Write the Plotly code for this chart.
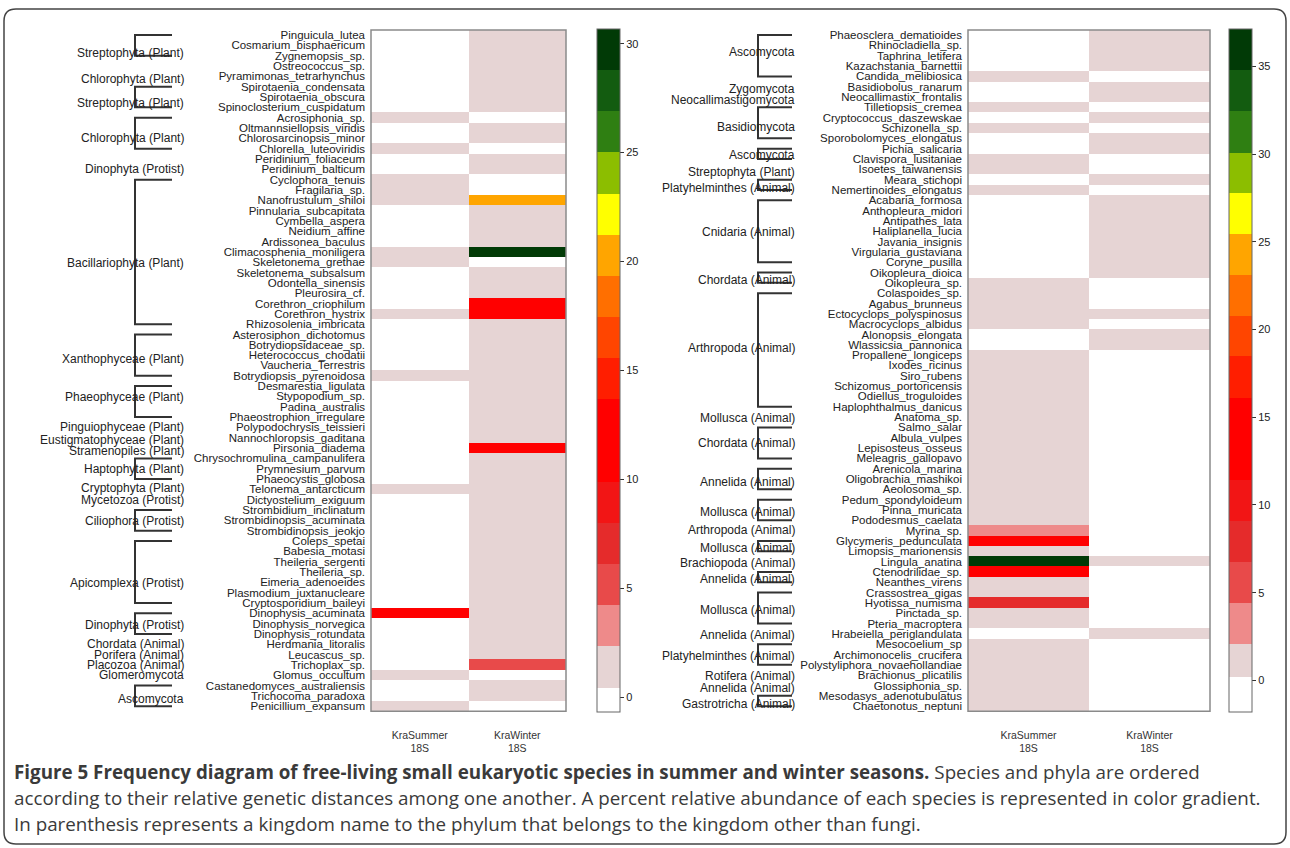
import plotly.graph_objects as go

W, H = 1290, 848

# ---------------- data: left panel ----------------
left_species = [
    "Pinguicula_lutea", "Cosmarium_bisphaericum", "Zygnemopsis_sp.", "Ostreococcus_sp.",
    "Pyramimonas_tetrarhynchus", "Spirotaenia_condensata", "Spirotaenia_obscura",
    "Spinoclosterium_cuspidatum", "Acrosiphonia_sp.", "Oltmannsiellopsis_viridis",
    "Chlorosarcinopsis_minor", "Chlorella_luteoviridis", "Peridinium_foliaceum",
    "Peridinium_balticum", "Cyclophora_tenuis", "Fragilaria_sp.", "Nanofrustulum_shiloi",
    "Pinnularia_subcapitata", "Cymbella_aspera", "Neidium_affine", "Ardissonea_baculus",
    "Climacosphenia_moniligera", "Skeletonema_grethae", "Skeletonema_subsalsum",
    "Odontella_sinensis", "Pleurosira_cf.", "Corethron_criophilum", "Corethron_hystrix",
    "Rhizosolenia_imbricata", "Asterosiphon_dichotomus", "Botrydiopsidaceae_sp.",
    "Heterococcus_chodatii", "Vaucheria_Terrestris", "Botrydiopsis_pyrenoidosa",
    "Desmarestia_ligulata", "Stypopodium_sp.", "Padina_australis", "Phaeostrophion_irregulare",
    "Polypodochrysis_teissieri", "Nannochloropsis_gaditana", "Pirsonia_diadema",
    "Chrysochromulina_campanulifera", "Prymnesium_parvum", "Phaeocystis_globosa",
    "Telonema_antarcticum", "Dictyostelium_exiguum", "Strombidium_inclinatum",
    "Strombidinopsis_acuminata", "Strombidinopsis_jeokjo", "Coleps_spetai", "Babesia_motasi",
    "Theileria_sergenti", "Theileria_sp.", "Eimeria_adenoeides", "Plasmodium_juxtanucleare",
    "Cryptosporidium_baileyi", "Dinophysis_acuminata", "Dinophysis_norvegica",
    "Dinophysis_rotundata", "Herdmania_litoralis", "Leucascus_sp.", "Trichoplax_sp.",
    "Glomus_occultum", "Castanedomyces_australiensis", "Trichocoma_paradoxa",
    "Penicillium_expansum",
]
left_summer = [0, 0, 0, 0, 0, 0, 0, 0, 1, 0, 0, 1, 0, 0, 1, 1, 1, 0, 0, 0, 0, 1, 1, 0, 0, 0,
               0, 1, 0, 0, 0, 0, 0, 1, 0, 0, 0, 0, 0, 0, 0, 0, 0, 0, 1, 0, 0, 0, 0, 0, 0, 0,
               0, 0, 0, 0, 12.5, 0, 0, 0, 0, 0, 1, 0, 0, 1]
left_winter = [1, 1, 1, 1, 1, 1, 1, 1, 0, 1, 1, 0, 1, 1, 0, 0, 20.3, 1, 1, 1, 1, 30, 0, 1, 1, 1,
               13, 13, 1, 1, 1, 1, 1, 1, 1, 1, 1, 1, 1, 1, 12.5, 1, 1, 1, 1, 1, 1, 1, 1, 1, 1, 1,
               1, 1, 1, 1, 1, 1, 1, 1, 1, 5, 0, 1, 1, 0]

left_phyla = ["Streptophyta (Plant)", "Chlorophyta (Plant)", "Streptophyta (Plant)",
              "Chlorophyta (Plant)", "Dinophyta (Protist)", "Bacillariophyta (Plant)",
              "Xanthophyceae (Plant)", "Phaeophyceae (Plant)", "Pinguiophyceae (Plant)",
              "Eustigmatophyceae (Plant)", "Stramenopiles (Plant)", "Haptophyta (Plant)",
              "Cryptophyta (Plant)", "Mycetozoa (Protist)", "Ciliophora (Protist)",
              "Apicomplexa (Protist)", "Dinophyta (Protist)", "Chordata (Animal)",
              "Porifera (Animal)", "Placozoa (Animal)", "Glomeromycota", "Ascomycota"]
left_phyla_first = [0, 3, 5, 8, 12, 14, 29, 34, 38, 39, 40, 41, 44, 45, 46, 49, 56, 59, 60, 61, 62, 63]
left_phyla_last = [2, 4, 7, 11, 13, 28, 33, 37, 38, 39, 40, 43, 44, 45, 48, 55, 58, 59, 60, 61, 62, 65]
left_phyla_bracket = [1, 0, 1, 1, 0, 1, 1, 1, 0, 0, 0, 1, 0, 0, 1, 1, 1, 0, 0, 0, 0, 1]
left_phyla_label_row = [1.76, 4.29, 6.62, 10.0, 13.0, 22.1, 31.4, 35.1, 38.0, 39.2, 40.3, 42.05,
                        43.9, 45.0, 47.07, 53.06, 57.1, 59.0, 60.0, 61.0, 61.96, 64.3]

# ---------------- data: right panel ----------------
right_species = [
    "Phaeosclera_dematioides", "Rhinocladiella_sp.", "Taphrina_letifera", "Kazachstania_barnettii",
    "Candida_melibiosica", "Basidiobolus_ranarum", "Neocallimastix_frontalis", "Tilletiopsis_cremea",
    "Cryptococcus_daszewskae", "Schizonella_sp.", "Sporobolomyces_elongatus", "Pichia_salicaria",
    "Clavispora_lusitaniae", "Isoetes_taiwanensis", "Meara_stichopi", "Nemertinoides_elongatus",
    "Acabaria_formosa", "Anthopleura_midori", "Antipathes_lata", "Haliplanella_lucia",
    "Javania_insignis", "Virgularia_gustaviana", "Coryne_pusilla", "Oikopleura_dioica",
    "Oikopleura_sp.", "Colaspoides_sp.", "Agabus_brunneus", "Ectocyclops_polyspinosus",
    "Macrocyclops_albidus", "Alonopsis_elongata", "Wlassicsia_pannonica", "Propallene_longiceps",
    "Ixodes_ricinus", "Siro_rubens", "Schizomus_portoricensis", "Odiellus_troguloides",
    "Haplophthalmus_danicus", "Anatoma_sp.", "Salmo_salar", "Albula_vulpes", "Lepisosteus_osseus",
    "Meleagris_gallopavo", "Arenicola_marina", "Oligobrachia_mashikoi", "Aeolosoma_sp.",
    "Pedum_spondyloideum", "Pinna_muricata", "Pododesmus_caelata", "Myrina_sp.",
    "Glycymeris_pedunculata", "Limopsis_marionensis", "Lingula_anatina", "Ctenodrilidae_sp.",
    "Neanthes_virens", "Crassostrea_gigas", "Hyotissa_numisma", "Pinctada_sp.",
    "Pteria_macroptera", "Hrabeiella_periglandulata", "Mesocoelium_sp",
    "Archimonocelis_crucifera", "Polystyliphora_novaehollandiae", "Brachionus_plicatilis",
    "Glossiphonia_sp.", "Mesodasys_adenotubulatus", "Chaetonotus_neptuni",
]
right_summer = [0, 0, 0, 0, 1, 0, 0, 1, 0, 1, 0, 0, 1, 1, 0, 1, 0, 0, 0, 0, 0, 0, 0, 0, 1, 1,
                1, 1, 1, 0, 0, 1, 1, 1, 1, 1, 1, 1, 1, 1, 1, 1, 1, 1, 1, 1, 1, 1, 3.5, 13, 1, 36,
                12.5, 1, 1, 8, 1, 1, 0, 1, 1, 1, 1, 1, 1, 1]
right_winter = [1, 1, 1, 1, 0, 1, 1, 0, 1, 0, 1, 1, 0, 0, 1, 0, 1, 1, 1, 1, 1, 1, 1, 1, 0, 0,
                0, 1, 0, 1, 1, 0, 0, 0, 0, 0, 0, 0, 0, 0, 0, 0, 0, 0, 0, 0, 0, 0, 0, 0, 0, 1,
                0, 0, 0, 0, 0, 0, 1, 0, 0, 0, 0, 0, 0, 0]

right_phyla = ["Ascomycota", "Zygomycota", "Neocallimastigomycota", "Basidiomycota", "Ascomycota",
               "Streptophyta (Plant)", "Platyhelminthes (Animal)", "Cnidaria (Animal)",
               "Chordata (Animal)", "Arthropoda (Animal)", "Mollusca (Animal)", "Chordata (Animal)",
               "Annelida (Animal)", "Mollusca (Animal)", "Arthropoda (Animal)", "Mollusca (Animal)",
               "Brachiopoda (Animal)", "Annelida (Animal)", "Mollusca (Animal)", "Annelida (Animal)",
               "Platyhelminthes (Animal)", "Rotifera (Animal)", "Annelida (Animal)",
               "Gastrotricha (Animal)"]
right_phyla_first = [0, 5, 6, 7, 11, 13, 14, 16, 23, 25, 37, 38, 42, 45, 48, 49, 51, 52, 54, 58, 59, 62, 63, 64]
right_phyla_last = [4, 5, 6, 10, 12, 13, 15, 22, 24, 36, 37, 41, 44, 47, 48, 50, 51, 53, 57, 58, 61, 62, 63, 65]
right_phyla_bracket = [1, 0, 0, 1, 1, 0, 1, 1, 1, 1, 0, 1, 1, 1, 0, 1, 0, 1, 1, 0, 1, 0, 0, 1]
right_phyla_label_row = [1.63, 5.18, 6.3, 8.89, 11.63, 13.25, 14.77, 19.05, 23.73, 30.35, 37.13,
                         39.55, 43.26, 46.23, 47.93, 49.71, 51.17, 52.68, 55.68, 58.1, 60.1, 62.04,
                         63.27, 64.8]

columns = ["KraSummer<br>18S", "KraWinter<br>18S"]

# colour bins (bottom -> top) and their value boundaries
bin_colors = ["#ffffff", "#e6d4d4", "#ee8a8a", "#e84a4a", "#e52b2b", "#f21515", "#ff0000",
              "#ff0000", "#ff1e00", "#ff4500", "#ff6f00", "#ffa500", "#ffff00", "#8cbe00",
              "#2f7f12", "#135c10", "#013a06"]
left_bounds = [-0.69, 0.43, 2.32, 4.21, 6.10, 7.99, 9.88, 11.77, 13.66, 15.55, 17.44, 19.33,
               21.22, 23.11, 25.0, 26.89, 28.78, 30.67]
right_bounds = [-1.81, 0.2, 2.07, 4.41, 6.74, 9.07, 11.41, 13.74, 16.07, 18.46, 20.79, 23.13,
                25.46, 27.79, 30.08, 32.46, 34.79, 37.13]
left_ticks = [0, 5, 10, 15, 20, 25, 30]
right_ticks = [0, 5, 10, 15, 20, 25, 30, 35]


def px(x):
    return x / W


def py(y):
    return 1 - y / H


def step_scale(bounds, colors):
    lo, hi = bounds[0], bounds[-1]
    scale = []
    for i, c in enumerate(colors):
        a = (bounds[i] - lo) / (hi - lo)
        b = (bounds[i + 1] - lo) / (hi - lo)
        scale.append([a, c])
        scale.append([b, c])
    scale[0][0] = 0.0
    scale[-1][0] = 1.0
    return scale


LAB_FONT = "Liberation Sans, Arial, Helvetica, sans-serif"
TOP, BOT = 29, 712

fig = go.Figure()
fig.add_trace(go.Heatmap(
    z=[[s, w] for s, w in zip(left_summer, left_winter)], x=[0, 1], y=list(range(len(left_species))),
    coloraxis="coloraxis", xaxis="x", yaxis="y", hoverinfo="skip"))
fig.add_trace(go.Heatmap(
    z=[[s, w] for s, w in zip(right_summer, right_winter)], x=[0, 1], y=list(range(len(right_species))),
    coloraxis="coloraxis2", xaxis="x2", yaxis="y2", hoverinfo="skip"))

cb_common = dict(thicknessmode="pixels", thickness=23, lenmode="pixels", len=BOT - TOP,
                 yanchor="middle", y=py((TOP + BOT) / 2), xanchor="left",
                 ticks="outside", ticklen=4, tickcolor="#333",
                 tickfont=dict(family=LAB_FONT, size=11, color="#222"),
                 outlinecolor="#666", outlinewidth=1, xpad=0, ypad=0)

fig.update_layout(
    width=W, height=H, margin=dict(l=0, r=0, t=0, b=0),
    paper_bgcolor="white", plot_bgcolor="white", showlegend=False,
    coloraxis=dict(cmin=left_bounds[0], cmax=left_bounds[-1],
                   colorscale=step_scale(left_bounds, bin_colors),
                   colorbar=dict(x=px(597), tickvals=left_ticks, **cb_common)),
    coloraxis2=dict(cmin=right_bounds[0], cmax=right_bounds[-1],
                    colorscale=step_scale(right_bounds, bin_colors),
                    colorbar=dict(x=px(1229), tickvals=right_ticks, **cb_common)),
)

axis_common = dict(showgrid=False, zeroline=False, showline=False, ticks="")
fig.update_layout(
    xaxis=dict(domain=[px(371), px(566)], range=[-0.5, 1.5], anchor="y",
               tickvals=[0, 1], ticktext=columns, ticklabelstandoff=16,
               tickfont=dict(family=LAB_FONT, size=10.5, color="#333"), **axis_common),
    yaxis=dict(domain=[py(BOT), py(TOP)], range=[len(left_species) - 0.5, -0.5], anchor="x",
               tickvals=list(range(len(left_species))), ticktext=left_species,
               ticklabelstandoff=5,
               tickfont=dict(family=LAB_FONT, size=11.5, color="#222"), **axis_common),
    xaxis2=dict(domain=[px(968), px(1210)], range=[-0.5, 1.5], anchor="y2",
                tickvals=[0, 1], ticktext=columns, ticklabelstandoff=16,
                tickfont=dict(family=LAB_FONT, size=10.5, color="#333"), **axis_common),
    yaxis2=dict(domain=[py(BOT), py(TOP)], range=[len(right_species) - 0.5, -0.5], anchor="x2",
                tickvals=list(range(len(right_species))), ticktext=right_species,
                ticklabelstandoff=5,
                tickfont=dict(family=LAB_FONT, size=11.5, color="#222"), **axis_common),
)

shapes = []
for xa, ya in (("x", "y"), ("x2", "y2")):
    shapes.append(dict(type="rect", xref=f"{xa} domain", yref=f"{ya} domain",
                       x0=0, x1=1, y0=0, y1=1, line=dict(color="#8a8a8a", width=1.5)))

annotations = []


def add_phyla(labels, firsts, lasts, brackets, label_rows, yref, x_vert, x_horiz, x_label):
    for lab, f, l, b, r in zip(labels, firsts, lasts, brackets, label_rows):
        if b:
            path = (f"M {px(x_horiz)},{f} L {px(x_vert)},{f} "
                    f"L {px(x_vert)},{l} L {px(x_horiz)},{l}")
            shapes.append(dict(type="path", xref="paper", yref=yref, path=path,
                               line=dict(color="#333", width=2)))
        annotations.append(dict(x=px(x_label), y=r, xref="paper", yref=yref, text=lab,
                                showarrow=False, xanchor="right", yanchor="middle",
                                font=dict(family=LAB_FONT, size=12, color="#222")))


add_phyla(left_phyla, left_phyla_first, left_phyla_last, left_phyla_bracket,
          left_phyla_label_row, "y", 135, 172, 186)
add_phyla(right_phyla, right_phyla_first, right_phyla_last, right_phyla_bracket,
          right_phyla_label_row, "y2", 758, 792, 797)

# rounded frame around the figure
x0, x1, y0, y1, r = 4, 1286, 8, 845, 12
frame = (f"M {px(x0 + r)},{py(y0)} L {px(x1 - r)},{py(y0)} Q {px(x1)},{py(y0)} {px(x1)},{py(y0 + r)} "
         f"L {px(x1)},{py(y1 - r)} Q {px(x1)},{py(y1)} {px(x1 - r)},{py(y1)} "
         f"L {px(x0 + r)},{py(y1)} Q {px(x0)},{py(y1)} {px(x0)},{py(y1 - r)} "
         f"L {px(x0)},{py(y0 + r)} Q {px(x0)},{py(y0)} {px(x0 + r)},{py(y0)} Z")
shapes.append(dict(type="path", xref="paper", yref="paper", path=frame,
                   line=dict(color="#444", width=1.5)))

caption_lines = [
    "<b>Figure 5 Frequency diagram of free-living small eukaryotic species in summer and winter seasons.</b>"
    " Species and phyla are ordered",
    "according to their relative genetic distances among one another. A percent relative abundance of each"
    " species is represented in color gradient.",
    "In parenthesis represents a kingdom name to the phylum that belongs to the kingdom other than fungi.",
]
caption_y = [773, 799, 825]
for txt, yy in zip(caption_lines, caption_y):
    annotations.append(dict(x=px(12), y=py(yy), xref="paper", yref="paper", text=txt,
                            showarrow=False, xanchor="left", yanchor="middle",
                            font=dict(family="Open Sans, sans-serif", size=18.8, color="#3a3a3a")))

fig.update_layout(shapes=shapes, annotations=annotations)
fig.write_html("out.html", config={"displayModeBar": False},
               post_script="document.body.style.margin='0px';document.body.style.overflow='hidden';")
